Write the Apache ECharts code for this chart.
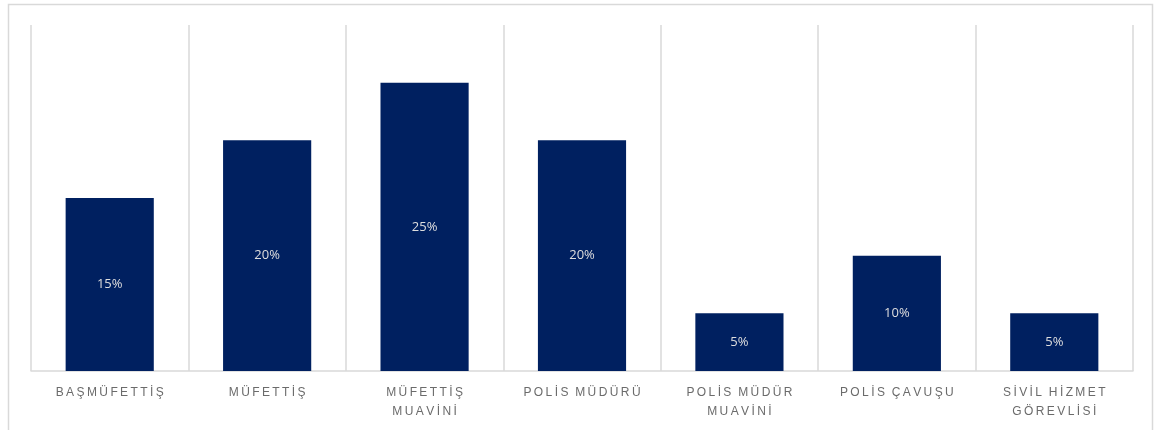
<!DOCTYPE html>
<html>
<head>
<meta charset="utf-8">
<script src="https://cdn.jsdelivr.net/npm/echarts@6/dist/echarts.min.js"></script>
<style>
  html, body { margin: 0; padding: 0; background: #fff; }
  #chart { width: 1157px; height: 430px; }
</style>
</head>
<body>
<div id="chart"></div>
<script>
// Rank categories (two-line labels where the name wraps)
const categories = [
  'BAŞMÜFETTİŞ',
  'MÜFETTİŞ',
  'MÜFETTİŞ\nMUAVİNİ',
  'POLİS MÜDÜRÜ',
  'POLİS MÜDÜR\nMUAVİNİ',
  'POLİS ÇAVUŞU',
  'SİVİL HİZMET\nGÖREVLİSİ'
];
// Share of respondents per rank, in percent
const shares = [15, 20, 25, 20, 5, 10, 5];

// Spread out the letters of each label line (letter-spaced caps)
function spaced(text) {
  return text.split('\n').map(line =>
    Array.from(line).map(ch => ch === ' ' ? '\u2006' : ch).join('\u2009')
  ).join('\n');
}

const chart = echarts.init(document.getElementById('chart'));
chart.setOption({
  animation: false,
  grid: { left: 31, right: 24, top: 25, bottom: 59 },
  graphic: [{
    type: 'rect',
    shape: { x: 8.5, y: 4.5, width: 1144, height: 500 },
    style: { fill: 'none', stroke: '#d9d9d9', lineWidth: 1.5 },
    silent: true
  }],
  xAxis: {
    type: 'category',
    data: categories,
    boundaryGap: true,
    axisLine: { show: true, lineStyle: { color: '#d9d9d9', width: 1.5 } },
    axisTick: { show: false },
    splitLine: { show: true, lineStyle: { color: '#d9d9d9', width: 1.5 } },
    axisLabel: {
      interval: 0,
      margin: 12,
      color: '#6b6b6b',
      fontFamily: 'Liberation Sans, Arial, sans-serif',
      fontSize: 12,
      lineHeight: 19,
      formatter: v => spaced(v)
    }
  },
  yAxis: {
    type: 'value',
    min: 0,
    max: 30,
    show: false,
    splitLine: { show: false }
  },
  series: [{
    type: 'bar',
    data: shares,
    barWidth: '56%',
    itemStyle: { color: '#002060' },
    label: {
      show: true,
      position: 'inside',
      color: '#dedede',
      fontFamily: 'Open Sans, Liberation Sans, sans-serif',
      fontSize: 13,
      formatter: p => p.value + '%'
    }
  }]
});
</script>
</body>
</html>
